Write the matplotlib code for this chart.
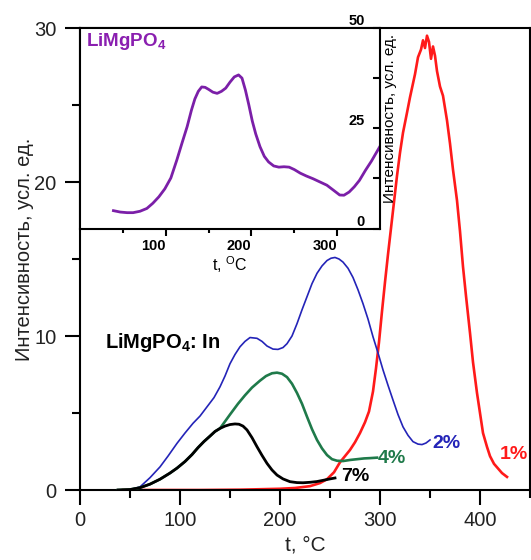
import numpy as np
import matplotlib
matplotlib.use("Agg")
import matplotlib.pyplot as plt
from matplotlib.ticker import MultipleLocator, FixedLocator

plt.rcParams['font.family'] = ['Liberation Sans', 'DejaVu Sans']
plt.rcParams['mathtext.fontset'] = 'custom'
plt.rcParams['mathtext.rm'] = 'Liberation Sans'
plt.rcParams['mathtext.bf'] = 'Liberation Sans:bold'

# main plot: LiMgPO4:In, glow curves for different In content
t_1 = [43, 80, 120, 160, 200, 215, 230, 240, 247, 254, 260, 265, 270, 275, 280, 285, 289, 293,
       296, 299, 302, 305, 308, 311, 314, 317, 320, 323, 327, 330, 333, 335, 338, 341, 343, 345,
       347, 349, 351, 353, 355, 357, 360, 363, 367, 370, 373, 377, 380, 383, 386, 390, 393, 397,
       400, 403, 407, 410, 414, 418, 422, 427]
i_1 = [0.0, 0.0, 0.0, 0.02, 0.08, 0.13, 0.25, 0.45, 0.7, 1.15, 1.8, 2.2, 2.6, 3.1, 3.7, 4.4, 5.1,
       6.4, 7.9, 9.6, 11.6, 13.5, 15.3, 17.0, 18.7, 20.4, 21.9, 23.2, 24.5, 25.5, 26.4, 27.0, 28.1,
       28.6, 29.2, 28.7, 29.5, 29.1, 28.0, 28.8, 28.2, 27.2, 26.2, 25.6, 24.0, 22.5, 20.8, 18.8,
       16.8, 14.5, 12.6, 10.2, 8.3, 6.3, 5.0, 3.7, 2.8, 2.2, 1.7, 1.4, 1.1, 0.85]

t_2 = [38, 50, 60, 70, 80, 88, 97, 105, 113, 120, 127, 134, 140, 145, 150, 155, 160, 165, 170,
       177, 182, 187, 193, 198, 203, 207, 212, 217, 222, 227, 232, 237, 242, 247, 251, 255, 259,
       263, 268, 273, 278, 283, 288, 293, 298, 303, 308, 313, 318, 323, 328, 333, 338, 342, 346,
       350]
i_2 = [0.0, 0.02, 0.2, 0.8, 1.5, 2.2, 3.03, 3.7, 4.33, 4.8, 5.4, 6.0, 6.7, 7.4, 8.2, 8.8, 9.3,
       9.65, 9.9, 9.85, 9.65, 9.35, 9.15, 9.13, 9.25, 9.5, 10.0, 10.8, 11.7, 12.55, 13.4, 14.07,
       14.55, 14.9, 15.05, 15.1, 15.0, 14.8, 14.4, 13.8, 13.0, 12.1, 11.1, 9.95, 8.9, 7.8, 6.8,
       5.84, 4.9, 4.1, 3.55, 3.14, 2.98, 2.95, 3.05, 3.25]

t_4 = [38, 50, 60, 70, 80, 90, 97, 105, 112, 118, 124, 130, 135, 140, 145, 150, 158, 165, 172,
       180, 186, 192, 197, 202, 207, 212, 217, 222, 227, 232, 237, 242, 247, 252, 257, 263, 270,
       277, 284, 290, 297]
i_4 = [0.0, 0.03, 0.15, 0.38, 0.7, 1.1, 1.42, 1.85, 2.3, 2.75, 3.15, 3.5, 3.8, 4.0, 4.45, 4.9,
       5.6, 6.15, 6.65, 7.1, 7.4, 7.58, 7.62, 7.55, 7.33, 6.9, 6.3, 5.6, 4.76, 3.95, 3.25, 2.7,
       2.27, 2.0, 1.9, 1.88, 1.95, 2.0, 2.05, 2.07, 2.1]

t_7 = [38, 50, 60, 70, 80, 90, 97, 105, 112, 118, 124, 130, 135, 140, 145, 150, 155, 159, 163,
       167, 172, 177, 182, 187, 192, 197, 203, 210, 217, 223, 230, 237, 244, 250, 255]
i_7 = [0.0, 0.03, 0.15, 0.38, 0.7, 1.1, 1.42, 1.85, 2.3, 2.75, 3.15, 3.5, 3.8, 4.0, 4.15, 4.25,
       4.29, 4.27, 4.15, 3.9, 3.4, 2.81, 2.25, 1.73, 1.3, 0.97, 0.72, 0.54, 0.48, 0.47, 0.5, 0.55,
       0.64, 0.72, 0.78]

# inset: undoped LiMgPO4
t_in = [39, 47, 55, 62, 70, 78, 85, 92, 99, 106, 113, 119, 125, 130, 134, 138, 142, 146, 150,
        155, 160, 165, 170, 175, 180, 185, 189, 193, 197, 201, 205, 210, 215, 220, 226, 232, 238,
        244, 250, 257, 264, 272, 280, 288, 296, 303, 308, 314, 320, 326, 333, 340, 350]
i_in = [4.45, 4.1, 3.95, 3.95, 4.3, 5.0, 6.3, 7.9, 9.9, 12.6, 17.1, 21.3, 25.4, 29.5, 32.3, 34.2,
        35.3, 35.2, 34.7, 34.0, 33.7, 34.2, 35.0, 36.5, 37.8, 38.3, 37.5, 34.5, 30.8, 26.8, 23.6,
        20.4, 18.0, 16.6, 15.6, 15.3, 15.4, 15.3, 14.7, 13.8, 13.1, 12.4, 11.6, 10.8, 9.5, 8.35,
        8.3, 9.1, 10.4, 12.0, 14.5, 16.8, 20.5]

fig = plt.figure(figsize=(5.31, 5.60), dpi=100)
ax = fig.add_axes([80 / 531, 1 - 490 / 560, 450 / 531, 462 / 560])

ax.plot(t_1, i_1, color='#ff1a1a', lw=1.9, zorder=2, solid_joinstyle='round')
ax.plot(t_2, i_2, color='#2424b8', lw=1.2, zorder=3, solid_joinstyle='round')
ax.plot(t_4, i_4, color='#1f7a4a', lw=1.9, zorder=3, solid_joinstyle='round')
ax.plot(t_7, i_7, color='black', lw=2.0, zorder=4, solid_joinstyle='round')

ax.text(420, 2.3, '1%', color='#ff1a1a', fontsize=14, fontweight='bold', va='center')
ax.text(352, 3.0, '2%', color='#2424b8', fontsize=14, fontweight='bold', va='center')
ax.text(298, 2.05, '4%', color='#1f7a4a', fontsize=14, fontweight='bold', va='center')
ax.text(261, 0.85, '7%', color='black', fontsize=14, fontweight='bold', va='center')
ax.text(25, 9.6, r'LiMgPO$_\mathbf{4}$: In', fontsize=14.5, fontweight='bold', va='center')

ax.set_xlim(0, 450)
ax.set_ylim(0, 30)
ax.xaxis.set_major_locator(FixedLocator([0, 100, 200, 300, 400]))
ax.xaxis.set_minor_locator(FixedLocator([50, 150, 250, 350, 450]))
ax.yaxis.set_major_locator(MultipleLocator(10))
ax.yaxis.set_minor_locator(FixedLocator([5, 15, 25]))
ax.tick_params(which='major', direction='out', length=11, width=1.5, labelsize=14.5, pad=4,
               labelcolor='#222222')
ax.tick_params(which='minor', direction='out', length=5.5, width=1.5)
ax.tick_params(axis='y', which='major', pad=6)
for s in ax.spines.values():
    s.set_linewidth(1.5)
ax.set_xlabel('t, °C', fontsize=15, color='#222222')
ax.xaxis.set_label_coords(0.5, -0.098)
ax.set_ylabel('Интенсивность, усл. ед.', fontsize=14.5, color='#222222')
ax.yaxis.set_label_coords(-0.102, 0.52)

# inset axes
axin = fig.add_axes([80 / 531, 1 - 228.5 / 560, 300 / 531, 200.5 / 560])
axin.set_facecolor('white')
axin.plot(t_in, i_in, color='#7b1fa8', lw=2.0, solid_joinstyle='round')
axin.set_xlim(0, 350)
axin.set_ylim(0, 50)
axin.xaxis.set_major_locator(FixedLocator([100, 200, 300]))
axin.xaxis.set_minor_locator(FixedLocator([50, 150, 250]))
axin.yaxis.set_major_locator(FixedLocator([0, 25, 50]))
axin.yaxis.set_minor_locator(FixedLocator([12.5, 37.5]))
axin.tick_params(axis='x', which='major', direction='out', length=5, width=1.5, pad=2.5,
                 labelsize=10.5)
axin.tick_params(axis='x', which='minor', direction='out', length=3, width=1.5)
axin.tick_params(axis='y', which='both', left=False, right=True, labelleft=False,
                 labelright=True, direction='in', length=5, width=1.5, pad=-11,
                 labelsize=10.5)
for lab in axin.get_xticklabels():
    lab.set_fontweight('bold')
    lab.set_horizontalalignment('right')
for lab in axin.get_yticklabels():
    lab.set_fontweight('bold')
    lab.set_horizontalalignment('right')
    lab.set_verticalalignment('bottom')
for s in axin.spines.values():
    s.set_linewidth(1.5)
axin.set_xlabel(r't, $^\mathrm{O}$C', fontsize=11.5, labelpad=1)
axin.yaxis.set_label_position('right')
axin.set_ylabel('Интенсивность, усл. ед.', fontsize=11)
axin.yaxis.set_label_coords(1.01, 0.55)
axin.text(0.02, 0.935, r'LiMgPO$_\mathbf{4}$', transform=axin.transAxes, color='#8a1fb0',
          fontsize=13.5, fontweight='bold', va='center')

fig.savefig('out.png', dpi=100)
